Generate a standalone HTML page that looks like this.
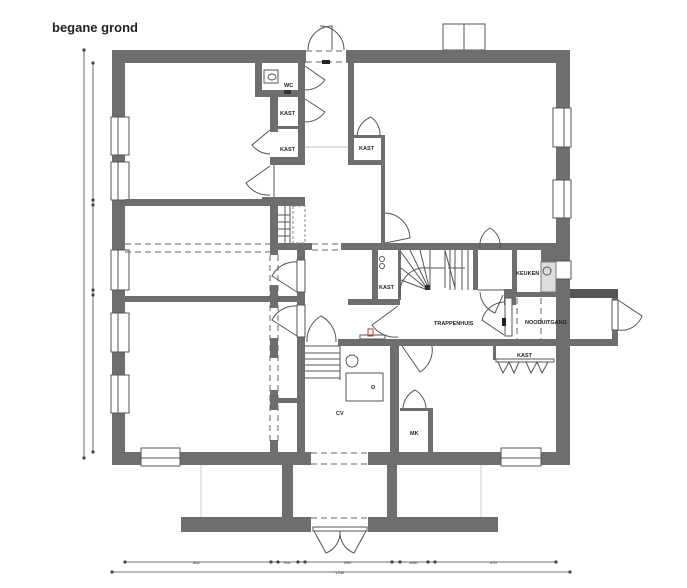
<!DOCTYPE html>
<html><head><meta charset="utf-8"><style>
html,body{margin:0;padding:0;background:#fff}
svg{display:block}
text{font-family:"Liberation Sans",sans-serif;fill:#222}
.w{fill:#6e6e6e}
.l{fill:none;stroke:#555;stroke-width:1}
.d{fill:none;stroke:#666;stroke-width:1;stroke-dasharray:6 4}
.win{fill:#fff;stroke:#555;stroke-width:1}
.lb{font-size:5.5px;font-weight:bold}
</style></head><body>
<svg width="687" height="588" viewBox="0 0 687 588">
<text x="52" y="32" style="font-size:13px;font-weight:bold">begane grond</text>
<rect x="443" y="24" width="42" height="26" class="win"/><line x1="464" y1="24" x2="464" y2="50" class="l"/>
<!-- outer walls -->
<rect class="w" x="112" y="50" width="194" height="13"/>
<rect class="w" x="346" y="50" width="224" height="13"/>
<rect class="w" x="112" y="50" width="13" height="415"/>
<rect class="w" x="556" y="50" width="14" height="415"/>
<rect class="w" x="112" y="452" width="199" height="13"/>
<rect class="w" x="368" y="452" width="202" height="13"/>
<line x1="311" y1="453" x2="368" y2="453" class="d"/><line x1="311" y1="464" x2="368" y2="464" class="d"/>
<line x1="306" y1="51" x2="346" y2="51" class="d"/><line x1="306" y1="62" x2="346" y2="62" class="d"/>
<path class="l" d="M308 50 A24 24 0 0 1 332 26 L332 50 M344 50 A24 24 0 0 0 320 26"/>
<rect x="322" y="60" width="8" height="4" fill="#222"/>
<!-- porch -->
<rect class="w" x="282" y="465" width="11" height="55"/>
<rect class="w" x="387" y="465" width="10" height="55"/>
<rect class="w" x="181" y="517" width="130" height="15"/>
<rect class="w" x="368" y="517" width="130" height="15"/>
<line x1="201" y1="465" x2="201" y2="517" stroke="#ccc"/><line x1="481" y1="465" x2="481" y2="517" stroke="#ccc"/>
<line x1="311" y1="518" x2="368" y2="518" class="d"/>
<rect x="313" y="527" width="54" height="4" class="win"/>
<path class="l" d="M314 531 L326 553 A22 22 0 0 0 340 531 M366 531 L354 553 A22 22 0 0 1 340 531"/>
<!-- windows -->
<g class="win">
<rect x="111" y="117" width="18" height="38"/><rect x="111" y="162" width="18" height="38"/>
<rect x="111" y="250" width="18" height="40"/><rect x="111" y="313" width="18" height="39"/><rect x="111" y="375" width="18" height="38"/>
<rect x="553" y="108" width="18" height="39"/><rect x="553" y="180" width="18" height="38"/><rect x="553" y="261" width="18" height="18"/>
<rect x="141" y="448" width="39" height="18"/><rect x="501" y="448" width="40" height="18"/>
</g>
<g class="l"><line x1="118" y1="117" x2="118" y2="155"/><line x1="118" y1="162" x2="118" y2="200"/><line x1="118" y1="250" x2="118" y2="290"/><line x1="118" y1="313" x2="118" y2="352"/><line x1="118" y1="375" x2="118" y2="413"/>
<line x1="564" y1="108" x2="564" y2="147"/><line x1="564" y1="180" x2="564" y2="218"/><line x1="141" y1="458" x2="180" y2="458"/><line x1="501" y1="458" x2="541" y2="458"/></g>
<!-- WC / kast left -->
<rect class="w" x="255" y="62" width="7" height="35"/>
<rect class="w" x="255" y="90" width="50" height="7"/>
<rect class="w" x="298" y="62" width="7" height="103"/>
<rect class="w" x="270" y="97" width="8" height="35"/>
<rect class="w" x="270" y="118" width="8" height="6"/>
<rect class="w" x="270" y="157" width="35" height="8"/>
<rect class="w" x="270" y="126" width="30" height="3"/>
<rect x="264" y="70" width="14" height="13" fill="#fff" stroke="#555"/><ellipse cx="272" cy="77" rx="4" ry="3" class="l"/>
<rect x="284" y="90" width="7" height="4" fill="#333"/>
<text class="lb" x="284" y="87">WC</text><text class="lb" x="280" y="115">KAST</text><text class="lb" x="280" y="151">KAST</text>
<path class="l" d="M305 66 L325 80 A24 24 0 0 1 305 90 M305 99 L325 112 A24 24 0 0 1 305 122 M270 130 L252 145 A24 24 0 0 0 270 154 M270 166 L246 183 A26 26 0 0 0 270 195"/>
<line x1="274" y1="165" x2="274" y2="197" class="l"/>
<!-- kast right -->
<rect class="w" x="348" y="62" width="6" height="103"/>
<rect class="w" x="348" y="160" width="37" height="5"/>
<rect class="w" x="381" y="135" width="4" height="108"/>
<rect class="w" x="352" y="135" width="33" height="3"/>
<text class="lb" x="359" y="150">KAST</text>
<path class="l" d="M357 136 A22 22 0 0 1 371 117 A22 22 0 0 1 380 136"/>
<line x1="305" y1="147" x2="348" y2="147" stroke="#bbb"/>
<path class="l" d="M385 213 A26 26 0 0 1 410 238 L385 243"/>
<!-- middle band -->
<rect class="w" x="125" y="199" width="180" height="7"/>
<rect class="w" x="262" y="197" width="43" height="9"/>
<rect class="w" x="270" y="206" width="8" height="246"/>
<rect class="w" x="278" y="243" width="34" height="7"/>
<rect class="w" x="341" y="243" width="215" height="7"/>
<line x1="125" y1="244" x2="270" y2="244" class="d"/><line x1="125" y1="252" x2="270" y2="252" class="d"/>
<line x1="312" y1="244" x2="341" y2="244" class="d"/><line x1="312" y1="250" x2="341" y2="250" class="d"/>
<g stroke="#555"><line x1="285" y1="206" x2="285" y2="243"/><line x1="290" y1="206" x2="290" y2="243"/><line x1="278" y1="215" x2="290" y2="215"/><line x1="278" y1="222" x2="290" y2="222"/><line x1="278" y1="229" x2="290" y2="229"/><line x1="278" y1="236" x2="290" y2="236"/></g>
<rect x="293" y="206" width="12" height="37" fill="none" stroke="#888" stroke-dasharray="3 2"/>
<rect class="w" x="125" y="296" width="145" height="6"/>
<rect class="w" x="278" y="296" width="19" height="6"/>
<rect class="w" x="297" y="250" width="8" height="202"/>
<rect x="297" y="260" width="8" height="32" class="win"/><rect x="297" y="305" width="8" height="32" class="win"/>
<g fill="#fff"><rect x="270" y="255" width="8" height="30"/><rect x="270" y="308" width="8" height="30"/><rect x="270" y="358" width="8" height="32"/><rect x="270" y="410" width="8" height="30"/></g>
<g class="d"><line x1="270" y1="255" x2="270" y2="445"/><line x1="278" y1="255" x2="278" y2="445"/></g>
<path class="l" d="M297 262 A26 26 0 0 0 272 276 L297 292 M297 306 A26 26 0 0 0 272 320 L297 336"/>
<rect class="w" x="278" y="398" width="19" height="5"/>
<!-- CV -->
<rect class="w" x="338" y="339" width="62" height="7"/>
<rect class="w" x="390" y="339" width="9" height="113"/>
<g stroke="#555"><line x1="305" y1="346" x2="340" y2="346"/><line x1="305" y1="353" x2="340" y2="353"/><line x1="305" y1="359" x2="340" y2="359"/><line x1="305" y1="365" x2="340" y2="365"/><line x1="305" y1="371" x2="340" y2="371"/><line x1="305" y1="378" x2="340" y2="378"/><line x1="340" y1="346" x2="340" y2="380"/></g>
<path class="l" d="M307 342 A28 28 0 0 1 321 316 A28 28 0 0 1 336 342"/>
<circle cx="352" cy="361" r="6" class="l"/><rect x="346" y="373" width="37" height="28" class="l"/><circle cx="373" cy="387" r="1.5" class="l"/>
<text class="lb" x="336" y="415">CV</text>
<rect class="w" x="400" y="408" width="33" height="3"/><rect class="w" x="428" y="408" width="5" height="44"/>
<path class="l" d="M403 408 A22 22 0 0 1 415 390 A22 22 0 0 1 426 408"/>
<text class="lb" x="410" y="435">MK</text>
<!-- kast & stairs -->
<rect class="w" x="372" y="250" width="6" height="50"/><rect class="w" x="348" y="299" width="52" height="6"/>
<rect class="w" x="398" y="250" width="3" height="50"/>
<circle cx="382" cy="259" r="2.5" class="l"/><circle cx="382" cy="266" r="2.5" class="l"/>
<text class="lb" x="379" y="289">KAST</text>
<path class="l" d="M398 306 L372 325 A28 28 0 0 0 398 337"/>
<rect x="360" y="335" width="25" height="4" class="l"/><rect x="368" y="329" width="5" height="7" fill="none" stroke="#c33"/>
<path class="l" d="M401 252 L427 288 M410 250 L428 287 M420 250 L429 287 M401 268 L426 288 M401 280 L425 289 M400 296 A25 25 0 0 1 428 268 M428 268 L445 268 M445 250 L445 288 M445 250 L455 288"/>
<g stroke="#555"><line x1="430" y1="250" x2="430" y2="290"/><line x1="450" y1="250" x2="450" y2="290"/><line x1="455" y1="250" x2="455" y2="290"/><line x1="462" y1="250" x2="462" y2="290"/><line x1="468" y1="250" x2="468" y2="290"/><line x1="448" y1="268" x2="465" y2="268"/></g>
<rect x="425" y="285" width="5" height="5" fill="#333"/>
<rect class="w" x="473" y="250" width="5" height="40"/>
<path class="l" d="M480 248 A20 20 0 0 1 490 228 A20 20 0 0 1 500 248"/>
<line x1="478" y1="290" x2="504" y2="290" class="l"/>
<path class="l" d="M480 292 A24 24 0 0 0 495 313 L503 295"/>
<text class="lb" x="434" y="325">TRAPPENHUIS</text>
<!-- keuken -->
<rect class="w" x="512" y="250" width="5" height="46"/><rect class="w" x="504" y="289" width="12" height="16"/>
<rect class="w" x="512" y="292" width="44" height="5"/>
<rect class="w" x="541" y="250" width="15" height="12"/>
<rect x="541" y="262" width="15" height="30" fill="#ddd" stroke="#777"/><circle cx="547" cy="271" r="4" class="l"/>
<text class="lb" x="516" y="275">KEUKEN</text>
<!-- nooduitgang -->
<rect class="w" x="570" y="289" width="48" height="9" fill="#555" style="fill:#555"/>
<rect class="w" x="612" y="298" width="6" height="48"/>
<rect class="w" x="400" y="339" width="218" height="7"/>
<rect x="505" y="298" width="7" height="38" class="win"/><rect x="612" y="300" width="6" height="30" class="win"/>
<rect x="502" y="318" width="4" height="8" fill="#222"/>
<path class="l" d="M504 302 A24 24 0 0 0 482 320 L504 335 M618 300 L642 316 A22 22 0 0 1 618 330"/>
<line x1="517" y1="298" x2="517" y2="339" class="d"/><line x1="541" y1="298" x2="541" y2="339" class="d"/>
<text class="lb" x="525" y="324">NOODUITGANG</text>
<path class="l" d="M402 346 L420 372 A26 26 0 0 0 432 346"/>
<!-- kast bottom -->
<rect class="w" x="493" y="346" width="3" height="14"/>
<rect x="496" y="359" width="58" height="3" class="win"/>
<text class="lb" x="517" y="357">KAST</text>
<path class="l" d="M498 362 L503 373 L509 362 M509 362 L514 373 L519 362 M526 362 L531 373 L537 362 M537 362 L542 373 L548 362"/>
<!-- dimensions -->
<g stroke="#444" stroke-width="0.8" fill="#444">
<line x1="84" y1="50" x2="84" y2="458"/><circle cx="84" cy="50" r="1.2"/><circle cx="84" cy="458" r="1.2"/>
<line x1="93" y1="63" x2="93" y2="452"/><circle cx="93" cy="63" r="1.2"/><circle cx="93" cy="200" r="1.2"/><circle cx="93" cy="205" r="1.2"/><circle cx="93" cy="290" r="1.2"/><circle cx="93" cy="295" r="1.2"/><circle cx="93" cy="452" r="1.2"/>
<line x1="125" y1="562" x2="556" y2="562"/><line x1="112" y1="572" x2="570" y2="572"/>
<circle cx="125" cy="562" r="1.2"/><circle cx="271" cy="562" r="1.2"/><circle cx="278" cy="562" r="1.2"/><circle cx="298" cy="562" r="1.2"/><circle cx="305" cy="562" r="1.2"/><circle cx="392" cy="562" r="1.2"/><circle cx="400" cy="562" r="1.2"/><circle cx="428" cy="562" r="1.2"/><circle cx="435" cy="562" r="1.2"/><circle cx="556" cy="562" r="1.2"/>
<circle cx="112" cy="572" r="1.2"/><circle cx="570" cy="572" r="1.2"/>
</g>
<g style="font-size:4px" fill="#555"><text x="193" y="564">552</text><text x="283" y="564">745</text><text x="344" y="564">290</text><text x="409" y="564">1100</text><text x="490" y="564">470</text><text x="335" y="574">1700</text></g>
</svg>
</body></html>
